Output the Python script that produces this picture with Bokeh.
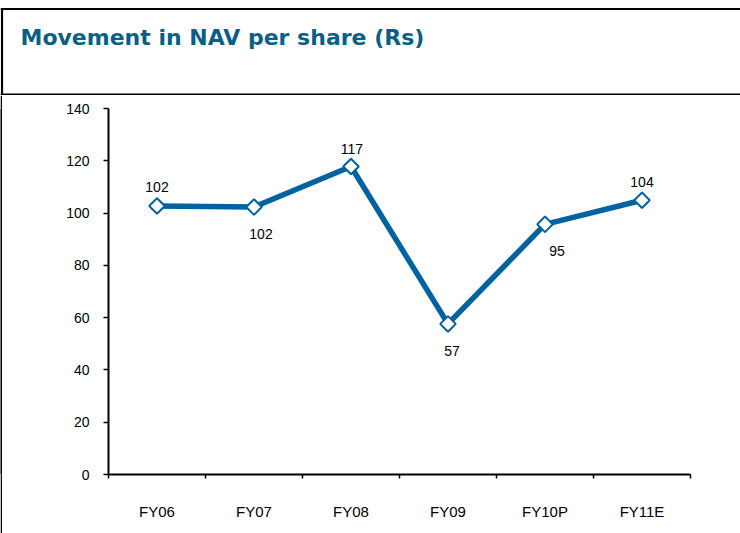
import math
from bokeh.plotting import figure
from bokeh.layouts import column, row
from bokeh.models import Range1d, ColumnDataSource, FixedTicker, LinearAxis
from bokeh.core.properties import value
from bokeh.embed import file_html
from bokeh.resources import INLINE

# ---- data ----
categories = ["FY06", "FY07", "FY08", "FY09", "FY10P", "FY11E"]
nav = [102.7, 102.3, 117.8, 57.6, 95.7, 104.9]
nav_labels = ["102", "102", "117", "57", "95", "104"]
y_ticks = [0, 20, 40, 60, 80, 100, 120, 140]
title_text = "Movement in NAV per share (Rs)"

# ---- style ----
label_dx = [0, 7, 1, 4, 12, 0]
label_dy = [-19, 27, -18, 27, 27, -18]
BLUE = "#0062A1"
TITLE_BLUE = "#0A5F88"
FONT = "Liberation Sans"

W, H = 740, 533
HEAD_H = 95          # header band height
STRIP_W = 2          # left rule width
BODY_H = H - HEAD_H
BODY_W = W - STRIP_W

# ---- header band: title plus rules (pixel-like coordinates) ----
head = figure(width=W, height=HEAD_H, x_range=Range1d(0, W), y_range=Range1d(HEAD_H, 0),
              x_axis_type=None, y_axis_type=None, min_border=0,
              output_backend="svg", toolbar_location=None)
head.outline_line_color = None
head.xgrid.grid_line_color = None
head.ygrid.grid_line_color = None
head.segment(x0=[0, 0, 1.5], y0=[8.5, 94, 7.5], x1=[W, W, 1.5], y1=[8.5, 94, HEAD_H],
             line_color="black", line_width=2.2)
head.text(x=[20], y=[37], text=[title_text], text_font=value("DejaVu Sans"),
          text_font_style="bold", text_font_size="22px", text_color=TITLE_BLUE,
          text_baseline="middle", text_align="left")

# ---- left rule strip ----
strip = figure(width=STRIP_W, height=BODY_H, x_axis_type=None, y_axis_type=None,
               min_border=0, output_backend="svg", toolbar_location=None)
strip.outline_line_color = None
strip.background_fill_color = "black"
strip.border_fill_color = "black"
strip.xgrid.grid_line_color = None
strip.ygrid.grid_line_color = None

# ---- chart body ----
n = len(categories)
centers = [i + 0.5 for i in range(n)]

p = figure(width=BODY_W, height=BODY_H,
           x_range=Range1d(0, n), y_range=Range1d(0, 140),
           x_axis_type=None,
           output_backend="svg", toolbar_location=None,
           min_border_left=108 - STRIP_W, min_border_right=50,
           min_border_top=108 - HEAD_H, min_border_bottom=59)
p.outline_line_color = None
p.xgrid.grid_line_color = None
p.ygrid.grid_line_color = None

p.yaxis.ticker = FixedTicker(ticks=y_ticks)
p.yaxis.axis_line_width = 2
p.yaxis.axis_line_color = "black"
p.yaxis.major_tick_line_width = 1.5
p.yaxis.major_tick_out = 5
p.yaxis.major_tick_in = 0
p.yaxis.minor_tick_line_color = None
p.yaxis.major_label_standoff = 14
p.yaxis.major_label_text_font = FONT
p.yaxis.major_label_text_font_size = "14px"
p.yaxis.major_label_text_color = "black"

cat_axis = LinearAxis(ticker=FixedTicker(ticks=centers, minor_ticks=list(range(n + 1))),
                      major_label_overrides={c: lab for c, lab in zip(centers, categories)},
                      axis_line_width=2, axis_line_color="black",
                      major_tick_line_color=None, major_tick_out=0, major_tick_in=0,
                      minor_tick_line_color="black", minor_tick_line_width=1.5,
                      minor_tick_out=4, minor_tick_in=0,
                      major_label_standoff=24, major_label_text_font=FONT,
                      major_label_text_font_size="15px", major_label_text_color="black")
p.add_layout(cat_axis, "below")

src = ColumnDataSource(dict(x=centers, y=nav, t=nav_labels, dx=label_dx, dy=label_dy))
p.line("x", "y", source=src, line_color=BLUE, line_width=5.5, line_join="round")
p.scatter("x", "y", source=src, marker="square", angle=math.pi / 4, size=11,
          fill_color="white", line_color=BLUE, line_width=2)
p.text("x", "y", text="t", source=src, x_offset="dx", y_offset="dy",
       text_align="center", text_baseline="middle",
       text_font=value(FONT), text_font_size="14px", text_color="black")

layout = column(head, row(strip, p, spacing=0), spacing=0)
open("out.html", "w").write(file_html(layout, INLINE))
